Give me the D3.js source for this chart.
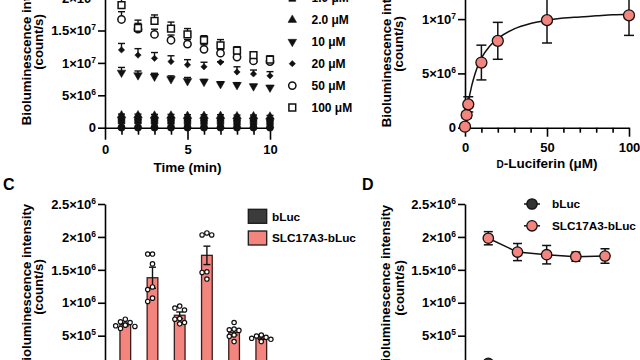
<!DOCTYPE html>
<html>
<head>
<meta charset="utf-8">
<script src="https://cdn.jsdelivr.net/npm/d3@7"></script>
<style>
html, body { margin: 0; padding: 0; background: #fff; }
svg { display: block; font-family: "Liberation Sans", Arial, sans-serif; font-weight: bold; }
</style>
</head>
<body>
<svg id="fig" width="640" height="360"></svg>
<script>
// ---- data (intensities in units of 1e6 count/s) ----

// A: time course per D-luciferin concentration
const timeMin = [1, 2, 3, 4, 5, 6, 7, 8, 9, 10];
const concLabelsA = ['0 μM', '1.0 μM', '2.0 μM', '10 μM', '20 μM', '50 μM', '100 μM'];
const meanA0   = [0.03, 0.03, 0.03, 0.03, 0.03, 0.03, 0.03, 0.03, 0.03, 0.03];
const meanA1   = [1.1, 1.1, 1.05, 1.05, 1.0, 1.0, 1.0, 0.95, 0.95, 0.95];
const meanA2   = [1.9, 1.9, 1.85, 1.85, 1.8, 1.8, 1.8, 1.75, 1.75, 1.7];
const meanA10  = [8.5, 8.1, 7.9, 7.5, 7.2, 7.1, 6.75, 6.6, 6.4, 6.2];
const meanA20  = [12.0, 11.2, 10.7, 10.2, 9.7, 9.4, 10.1, 8.6, 8.3, 8.0];
const meanA50  = [16.7, 15.2, 14.4, 13.5, 12.9, 12.1, 11.5, 10.9, 10.3, 10.2];
const meanA100 = [18.9, 15.4, 16.5, 15.3, 14.4, 13.5, 12.7, 11.9, 11.2, 10.5];
const semA0   = [0.02, 0.02, 0.02, 0.02, 0.02, 0.02, 0.02, 0.02, 0.02, 0.02];
const semA1   = [0.15, 0.15, 0.15, 0.15, 0.15, 0.15, 0.15, 0.15, 0.15, 0.15];
const semA2   = [0.2, 0.2, 0.2, 0.2, 0.2, 0.2, 0.2, 0.2, 0.2, 0.2];
const semA10  = [0.8, 0.65, 0.5, 0.5, 0.55, 0.35, 0.35, 0.35, 0.3, 0.3];
const semA20  = [1.0, 1.0, 0.9, 0.9, 0.8, 0.7, 0.1, 0.8, 0.6, 0.65];
const semA50  = [1.2, 0.9, 0.8, 0.8, 0.7, 0.7, 0.6, 0.6, 0.5, 0.5];
const semA100 = [1.1, 1.2, 0.9, 1.0, 0.9, 0.7, 0.9, 0.6, 0.4, 0.6];

// B: dose response with fitted curve
const lucConc = [0, 1, 2, 10, 20, 50, 100];
const lucMean = [0.09, 1.17, 2.15, 6.0, 8.0, 9.9, 10.35];
const lucSem  = [0.05, 0.3, 0.7, 1.6, 1.7, 2.1, 1.85];
const fitConc = [0, 1, 2, 4, 6, 8, 10, 15, 20, 30, 40, 50, 60, 70, 80, 90, 100];
const fitVal  = [0, 1.28, 2.3, 3.8, 4.9, 5.75, 6.4, 7.5, 8.2, 9.1, 9.6, 9.9, 10.1, 10.2, 10.3, 10.4, 10.45];

// C: bars (SLC17A3-bLuc) with individual points
const conditionsC = ['c1', 'c2', 'c3', 'c4', 'c5', 'c6'];
const barMeanC = [0.67, 1.38, 0.81, 1.72, 0.55, 0.465];
const barSemC  = [0.02, 0.16, 0.05, 0.14, 0.04, 0.02];
const dotsC = [
  [0.75, 0.71, 0.70, 0.66, 0.65, 0.64, 0.61],
  [1.74, 1.74, 1.59, 1.24, 1.20, 1.07, 1.02],
  [0.95, 0.92, 0.89, 0.76, 0.75, 0.70, 0.68],
  [2.06, 2.03, 2.03, 1.47, 1.46, 1.36],
  [0.70, 0.60, 0.59, 0.58, 0.51, 0.49, 0.41],
  [0.51, 0.495, 0.475, 0.46, 0.445, 0.41]
];
const legendC = ['bLuc', 'SLC17A3-bLuc'];

// D: repeated measurement
const stepsD = [1, 2, 3, 4, 5];
const slcMeanD = [1.98, 1.77, 1.73, 1.70, 1.71];
const slcSemD  = [0.10, 0.13, 0.14, 0.07, 0.11];
const blucMeanD = [0.08, 0.02, 0.02, 0.02, 0.02];
const blucSemD  = [0.01, 0.01, 0.01, 0.01, 0.01];

// ---- drawing ----
const svg = d3.select('#fig');
const salmon = '#f4847e';
const ink = '#111';

function styleAxis(g, size) {
  g.attr('font-family', null).attr('font-size', size || 13).attr('font-weight', 'bold');
  g.selectAll('path, line').attr('stroke', '#000').attr('stroke-width', 1.6);
  g.selectAll('text').attr('fill', '#000');
}

// tick labels like 1.5×10^7 (values are in 1e6 units)
function sciTicks(g) {
  g.selectAll('.tick text').each(function(d) {
    const t = d3.select(this).text('');
    const v = d * 1e6;
    if (v === 0) { t.text('0'); return; }
    const e = Math.floor(Math.log10(v) + 1e-9);
    const m = Math.round(v / Math.pow(10, e) * 100) / 100;
    t.append('tspan').text(m + '×10');
    t.append('tspan').attr('dy', -5).attr('font-size', 8.5).text(e);
  });
}

function yTitle(x1, x2, cy) {
  const t = svg.append('g').attr('font-size', 13.2);
  t.append('text').attr('transform', `translate(${x1},${cy}) rotate(-90)`)
    .attr('text-anchor', 'middle').text('Bioluminescence intensity');
  t.append('text').attr('transform', `translate(${x2},${cy}) rotate(-90)`)
    .attr('text-anchor', 'middle').text('(count/s)');
}

const sym = {
  circle:  d3.symbol(d3.symbolCircle, 42)(),
  square:  d3.symbol(d3.symbolSquare, 46)(),
  tri:     d3.symbol(d3.symbolTriangle, 32)(),
  diamond: d3.symbol(d3.symbolSquare, 20)()
};
const shapesA = [
  { p: sym.circle, rot: 0, open: false },
  { p: sym.square, rot: 0, open: false },
  { p: sym.tri, rot: 0, open: false },
  { p: sym.tri, rot: 180, open: false },
  { p: sym.diamond, rot: 45, open: false },
  { p: sym.circle, rot: 0, open: true },
  { p: sym.square, rot: 0, open: true }
];

// ===== Panel A =====
const xA = d3.scaleLinear().domain([0, 10]).range([105, 270]);
const yA = d3.scaleLinear().domain([0, 25]).range([127.7, -34.3]);

svg.append('g').attr('transform', `translate(0,${yA(0)})`)
  .call(d3.axisBottom(xA).tickValues([1, 2, 3, 4, 6, 7, 8, 9]).tickSize(7).tickFormat(''))
  .call(g => g.select('.domain').remove()).call(styleAxis);
svg.append('g').attr('transform', `translate(0,${yA(0)})`)
  .call(d3.axisBottom(xA).tickValues([0, 5, 10]).tickSize(12).tickPadding(5).tickSizeOuter(0))
  .call(styleAxis);
svg.append('g').attr('transform', `translate(${xA(0)},0)`)
  .call(d3.axisLeft(yA).tickValues([0, 5, 10, 15, 20, 25]).tickSize(7).tickPadding(2).tickSizeOuter(0))
  .call(styleAxis).call(sciTicks);

svg.append('text').attr('x', xA(5)).attr('y', 172).attr('text-anchor', 'middle')
  .attr('font-size', 13.5).text('Time (min)');
yTitle(31, 43, 42);

const meansA = [meanA0, meanA1, meanA2, meanA10, meanA20, meanA50, meanA100];
const semsA = [semA0, semA1, semA2, semA10, semA20, semA50, semA100];

meansA.forEach((vals, si) => {
  const pts = timeMin.map((t, i) => ({ t, v: vals[i], e: semsA[si][i] }));
  const g = svg.append('g');
  // upper error bars only
  g.selectAll('line.eb').data(pts).join('line')
    .attr('x1', d => xA(d.t)).attr('x2', d => xA(d.t))
    .attr('y1', d => yA(d.v)).attr('y2', d => yA(d.v + d.e))
    .attr('stroke', ink).attr('stroke-width', 1.4);
  g.selectAll('line.cap').data(pts).join('line')
    .attr('x1', d => xA(d.t) - 3.5).attr('x2', d => xA(d.t) + 3.5)
    .attr('y1', d => yA(d.v + d.e)).attr('y2', d => yA(d.v + d.e))
    .attr('stroke', ink).attr('stroke-width', 1.4);
  const s = shapesA[si];
  g.selectAll('path').data(pts).join('path')
    .attr('d', s.p)
    .attr('transform', d => `translate(${xA(d.t)},${yA(d.v)}) rotate(${s.rot})`)
    .attr('fill', s.open ? '#fff' : ink)
    .attr('stroke', ink).attr('stroke-width', s.open ? 1.5 : 0.5);
});

// legend A
const legA = svg.append('g').attr('font-size', 12);
concLabelsA.forEach((lab, i) => {
  const y = 107.5 - (concLabelsA.length - 1 - i) * 21.9;
  const s = shapesA[i];
  legA.append('path').attr('d', s.p)
    .attr('transform', `translate(292.3,${y}) rotate(${s.rot})`)
    .attr('fill', s.open ? '#fff' : ink).attr('stroke', ink).attr('stroke-width', s.open ? 1.5 : 0.5);
  legA.append('text').attr('x', 311.5).attr('y', y).attr('dy', '0.36em').text(lab);
});

// ===== Panel B =====
const xB = d3.scaleLinear().domain([0, 100]).range([465, 629]);
const yB = d3.scaleLinear().domain([0, 15]).range([127.7, -35.2]);

svg.append('g').attr('transform', `translate(0,${yB(0)})`)
  .call(d3.axisBottom(xB).tickValues([10, 20, 30, 40, 60, 70, 80, 90]).tickSize(5).tickFormat(''))
  .call(g => g.select('.domain').remove()).call(styleAxis);
svg.append('g').attr('transform', `translate(0,${yB(0)})`)
  .call(d3.axisBottom(xB).tickValues([0, 50, 100]).tickSize(9).tickPadding(6).tickSizeOuter(0))
  .call(styleAxis);
svg.append('g').attr('transform', `translate(${xB(0)},0)`)
  .call(d3.axisLeft(yB).tickValues([0, 5, 10, 15]).tickSize(7).tickPadding(2).tickSizeOuter(0))
  .call(styleAxis).call(sciTicks);

const xtB = svg.append('text').attr('x', xB(50)).attr('y', 168).attr('text-anchor', 'middle').attr('font-size', 13.5);
xtB.append('tspan').attr('font-size', 10).text('D');
xtB.append('tspan').text('-Luciferin (μM)');
yTitle(390.5, 403, 44);

const fitLine = d3.line().x(d => xB(d[0])).y(d => yB(d[1])).curve(d3.curveMonotoneX);
svg.append('path').datum(fitConc.map((c, i) => [c, fitVal[i]]))
  .attr('d', fitLine).attr('fill', 'none').attr('stroke', ink).attr('stroke-width', 1.5);

const ptsB = lucConc.map((c, i) => ({ c, v: lucMean[i], e: lucSem[i] }));
const gB = svg.append('g').attr('stroke', ink).attr('stroke-width', 1.5);
gB.selectAll('line.eb').data(ptsB).join('line')
  .attr('x1', d => xB(d.c)).attr('x2', d => xB(d.c))
  .attr('y1', d => yB(d.v - d.e)).attr('y2', d => yB(d.v + d.e));
[-1, 1].forEach(sgn => {
  gB.selectAll(null).data(ptsB).join('line')
    .attr('x1', d => xB(d.c) - 5).attr('x2', d => xB(d.c) + 5)
    .attr('y1', d => yB(d.v + sgn * d.e)).attr('y2', d => yB(d.v + sgn * d.e));
});
gB.selectAll('circle').data(ptsB).join('circle')
  .attr('cx', d => xB(d.c)).attr('cy', d => yB(d.v)).attr('r', 5.5)
  .attr('fill', salmon).attr('stroke-width', 1.3);

// ===== Panel C =====
const xC = d3.scalePoint().domain(conditionsC).range([125.3, 261.3]);
const yC = d3.scaleLinear().domain([0, 2.5]).range([368.6, 204]);
const barW = 10.7;

svg.append('g').attr('transform', 'translate(105,0)')
  .call(d3.axisLeft(yC).tickValues([0, 0.5, 1, 1.5, 2, 2.5]).tickSize(7).tickPadding(2).tickSizeOuter(0))
  .call(styleAxis).call(sciTicks);
yTitle(31, 43, 287);
svg.append('text').attr('x', 3).attr('y', 190).attr('font-size', 16).text('C');

const barsC = conditionsC.map((c, i) => ({ c, v: barMeanC[i], e: barSemC[i], dots: dotsC[i] }));
const gC = svg.append('g');
gC.selectAll('rect').data(barsC).join('rect')
  .attr('x', d => xC(d.c) - barW / 2).attr('width', barW)
  .attr('y', d => yC(d.v)).attr('height', d => yC(0) - yC(d.v))
  .attr('fill', salmon).attr('stroke', '#3a1c1a').attr('stroke-width', 1.3);
const ebC = gC.append('g').attr('stroke', ink).attr('stroke-width', 1.4);
ebC.selectAll('line.eb').data(barsC).join('line')
  .attr('x1', d => xC(d.c)).attr('x2', d => xC(d.c))
  .attr('y1', d => yC(d.v - d.e)).attr('y2', d => yC(d.v + d.e));
[-1, 1].forEach(sgn => {
  ebC.selectAll(null).data(barsC).join('line')
    .attr('x1', d => xC(d.c) - 3.5).attr('x2', d => xC(d.c) + 3.5)
    .attr('y1', d => yC(d.v + sgn * d.e)).attr('y2', d => yC(d.v + sgn * d.e));
});

// simple swarm so that overlapping points spread sideways
const dotR = 2.2, gap = 4.8;
const dotPts = [];
barsC.forEach(b => {
  const placed = [];
  b.dots.slice().sort((a, c) => c - a).forEach(v => {
    const y = yC(v);
    const offs = [0, -gap, gap, -2 * gap, 2 * gap];
    let dx = offs.find(o => placed.every(p => Math.hypot(p.dx - o, p.y - y) >= gap)) ?? 0;
    placed.push({ dx, y });
    dotPts.push({ x: xC(b.c) + dx, y });
  });
});
gC.selectAll('circle').data(dotPts).join('circle')
  .attr('cx', d => d.x).attr('cy', d => d.y).attr('r', dotR)
  .attr('fill', '#fff').attr('stroke', ink).attr('stroke-width', 1.2);

// legend C
const legCol = ['#3b3b3b', salmon];
const legC = svg.append('g').attr('font-size', 11.8);
legendC.forEach((lab, i) => {
  const y = 216.3 + i * 21.7;
  legC.append('rect').attr('x', 248.3).attr('y', y - 7).attr('width', 18.4).attr('height', 14)
    .attr('fill', legCol[i]).attr('stroke', '#1a1a1a').attr('stroke-width', 1.3);
  legC.append('text').attr('x', 272).attr('y', y).attr('dy', '0.36em').text(lab);
});

// ===== Panel D =====
const xD = d3.scaleLinear().domain([1, 5]).range([488.3, 605]);
const yD = d3.scaleLinear().domain([0, 2.5]).range([368.6, 204]);

svg.append('g').attr('transform', 'translate(465,0)')
  .call(d3.axisLeft(yD).tickValues([0, 0.5, 1, 1.5, 2, 2.5]).tickSize(7).tickPadding(2).tickSizeOuter(0))
  .call(styleAxis).call(sciTicks);
yTitle(390, 404, 288);
svg.append('text').attr('x', 362).attr('y', 190).attr('font-size', 16).text('D');

const lineD = d3.line().x(d => xD(d.s)).y(d => yD(d.v));
function seriesD(means, sems, fill) {
  const pts = stepsD.map((s, i) => ({ s, v: means[i], e: sems[i] }));
  const g = svg.append('g').attr('stroke', ink).attr('stroke-width', 1.5);
  g.append('path').datum(pts).attr('d', lineD).attr('fill', 'none');
  g.selectAll('line.eb').data(pts).join('line')
    .attr('x1', d => xD(d.s)).attr('x2', d => xD(d.s))
    .attr('y1', d => yD(d.v - d.e)).attr('y2', d => yD(d.v + d.e));
  [-1, 1].forEach(sgn => {
    g.selectAll(null).data(pts).join('line')
      .attr('x1', d => xD(d.s) - 4.5).attr('x2', d => xD(d.s) + 4.5)
      .attr('y1', d => yD(d.v + sgn * d.e)).attr('y2', d => yD(d.v + sgn * d.e));
  });
  g.selectAll('circle').data(pts).join('circle')
    .attr('cx', d => xD(d.s)).attr('cy', d => yD(d.v)).attr('r', 5.2)
    .attr('fill', fill).attr('stroke-width', 1.3);
}
seriesD(blucMeanD, blucSemD, '#333');
seriesD(slcMeanD, slcSemD, salmon);

// legend D
const legD = svg.append('g').attr('font-size', 11.8);
legendC.forEach((lab, i) => {
  const y = 204 + i * 21.8;
  legD.append('line').attr('x1', 524).attr('x2', 540).attr('y1', y).attr('y2', y)
    .attr('stroke', ink).attr('stroke-width', 1.5);
  legD.append('circle').attr('cx', 532).attr('cy', y).attr('r', 5.2)
    .attr('fill', legCol[i] === salmon ? salmon : '#333').attr('stroke', ink).attr('stroke-width', 1.3);
  legD.append('text').attr('x', 552).attr('y', y).attr('dy', '0.36em').text(lab);
});
</script>
</body>
</html>
